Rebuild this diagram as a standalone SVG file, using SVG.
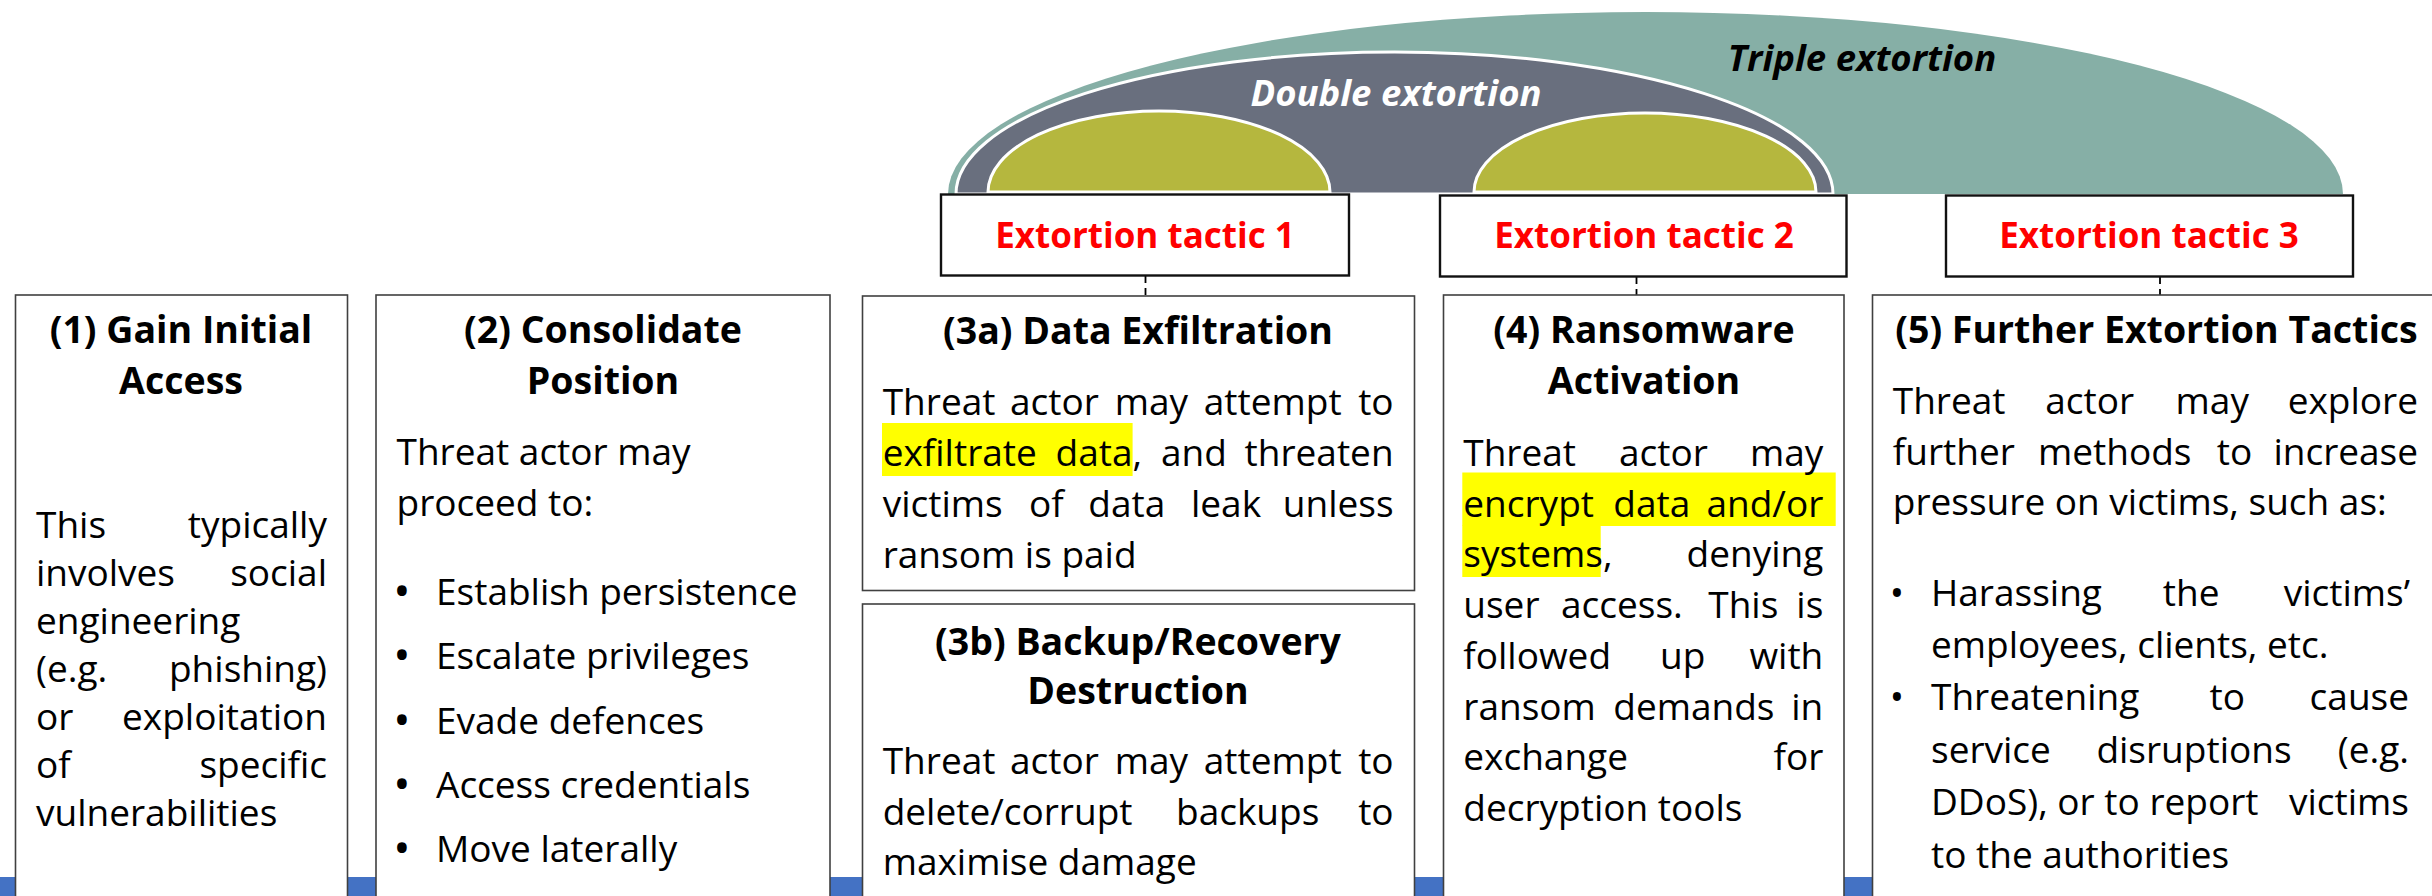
<svg xmlns="http://www.w3.org/2000/svg" width="2432" height="896" viewBox="0 0 2432 896">
<style>
.h{font-family:"Open Sans","Liberation Sans",sans-serif;font-weight:700;font-size:37.5px;fill:#000;text-anchor:middle}
.b{font-family:"Open Sans","Liberation Sans",sans-serif;font-size:37px;fill:#000}
.e{text-anchor:end}
.m{text-anchor:middle}
.bl{font-size:46px}
.bs{font-size:38px}
.t{font-family:"Open Sans","Liberation Sans",sans-serif;font-weight:700;font-size:35px;fill:#FF0000;text-anchor:middle}
.box{fill:#fff;stroke:#404040;stroke-width:1.6}
.tbox{fill:#fff;stroke:#111;stroke-width:2.4}
.hl{fill:#FFFF00}
.con{stroke:#000;stroke-width:1.8;stroke-dasharray:7 5;fill:none}
.arc{font-family:"Open Sans","Liberation Sans",sans-serif;font-weight:700;font-style:italic;font-size:36.5px;text-anchor:middle}
</style>
<rect x="0" y="0" width="2432" height="896" fill="#fff"/>
<rect id="bar" x="0" y="877" width="2432" height="19" fill="#4472C4"/>

<g id="triple">
<path d="M948,194 A697.5,182 0 0 1 2343,194 Z" fill="#86AFA6"/>
<text class="arc" x="1862" y="71" fill="#000">Triple extortion</text>
</g>
<g id="double">
<path d="M956,194 A438.5,142 0 0 1 1833,194 Z" fill="#696F7E" stroke="#fff" stroke-width="3"/>
<text class="arc" x="1396" y="106" fill="#fff">Double extortion</text>
</g>
<g id="single1">
<path d="M988,192 A171,81 0 0 1 1330,192 Z" fill="#B5B73E" stroke="#fff" stroke-width="3"/>
</g>
<g id="single2">
<path d="M1474,192 A171,79 0 0 1 1816,192 Z" fill="#B5B73E" stroke="#fff" stroke-width="3"/>
</g>

<g id="connectors">
<line class="con" x1="1145.5" y1="276" x2="1145.5" y2="296"/>
<line class="con" x1="1636.5" y1="277" x2="1636.5" y2="295"/>
<line class="con" x1="2160" y1="277" x2="2160" y2="295"/>
</g>

<g id="tactic1">
<rect class="tbox" x="941" y="194.5" width="408" height="81"/>
<text class="t" x="1145" y="248">Extortion tactic 1</text>
</g>
<g id="tactic2">
<rect class="tbox" x="1440" y="195.5" width="406.5" height="81"/>
<text class="t" x="1644" y="248">Extortion tactic 2</text>
</g>
<g id="tactic3">
<rect class="tbox" x="1946" y="195.5" width="407" height="81"/>
<text class="t" x="2149" y="248">Extortion tactic 3</text>
</g>

<g id="step1">
<rect class="box" x="15.5" y="295" width="332" height="640"/>
<text class="h" x="181" y="343">(1) Gain Initial</text>
<text class="h" x="181" y="394">Access</text>
<text class="b" x="36" y="538">This</text><text class="b e" x="327" y="538">typically</text>
<text class="b" x="36" y="586">involves</text><text class="b e" x="327" y="586">social</text>
<text class="b" x="36" y="634">engineering</text>
<text class="b" x="36" y="682">(e.g.</text><text class="b e" x="327" y="682">phishing)</text>
<text class="b" x="36" y="730">or</text><text class="b e" x="327" y="730">exploitation</text>
<text class="b" x="36" y="778">of</text><text class="b e" x="327" y="778">specific</text>
<text class="b" x="36" y="826">vulnerabilities</text>
</g>

<g id="step2">
<rect class="box" x="376" y="295" width="454" height="640"/>
<text class="h" x="603" y="343">(2) Consolidate</text>
<text class="h" x="603" y="394">Position</text>
<text class="b" x="396.5" y="465">Threat actor may</text>
<text class="b" x="396.5" y="516">proceed to:</text>
<text class="b m bl" x="402" y="607">•</text><text class="b" x="436" y="605">Establish persistence</text>
<text class="b m bl" x="402" y="671">•</text><text class="b" x="436" y="669">Escalate privileges</text>
<text class="b m bl" x="402" y="736">•</text><text class="b" x="436" y="734">Evade defences</text>
<text class="b m bl" x="402" y="800">•</text><text class="b" x="436" y="798">Access credentials</text>
<text class="b m bl" x="402" y="864">•</text><text class="b" x="436" y="862">Move laterally</text>
</g>

<g id="step3a">
<rect class="box" x="862.5" y="296" width="552" height="294.5"/>
<text class="h" x="1138" y="344">(3a) Data Exfiltration</text>
<rect class="hl" x="882" y="423" width="250.6" height="53"/>
<text class="b" x="882.7" y="415">Threat</text><text class="b" x="1010" y="415">actor</text><text class="b" x="1114.8" y="415">may</text><text class="b" x="1203.8" y="415">attempt</text><text class="b e" x="1393.6" y="415">to</text>
<text class="b" x="882.7" y="466">exfiltrate</text><text class="b" x="1055.5" y="466">data,</text><text class="b" x="1161" y="466">and</text><text class="b e" x="1393.6" y="466">threaten</text>
<text class="b" x="882.7" y="516.5">victims</text><text class="b" x="1029" y="516.5">of</text><text class="b" x="1088.3" y="516.5">data</text><text class="b" x="1191" y="516.5">leak</text><text class="b e" x="1393.6" y="516.5">unless</text>
<text class="b" x="882.7" y="567.5">ransom is paid</text>
</g>

<g id="step3b">
<rect class="box" x="862.5" y="604" width="552" height="330"/>
<text class="h" x="1138" y="654.5">(3b) Backup/Recovery</text>
<text class="h" x="1138" y="703.5">Destruction</text>
<text class="b" x="882.7" y="774">Threat</text><text class="b" x="1010" y="774">actor</text><text class="b" x="1114.8" y="774">may</text><text class="b" x="1203.8" y="774">attempt</text><text class="b e" x="1393.6" y="774">to</text>
<text class="b" x="882.7" y="825">delete/corrupt</text><text class="b" x="1176" y="825">backups</text><text class="b e" x="1393.6" y="825">to</text>
<text class="b" x="882.7" y="875">maximise damage</text>
</g>

<g id="step4">
<rect class="box" x="1443.5" y="295" width="400.5" height="640"/>
<text class="h" x="1644" y="343">(4) Ransomware</text>
<text class="h" x="1644" y="394">Activation</text>
<rect class="hl" x="1462.3" y="472.5" width="373.4" height="53.5"/>
<rect class="hl" x="1462.3" y="525.5" width="138.4" height="51.5"/>
<text class="b" x="1463.3" y="465.5">Threat</text><text class="b" x="1619" y="465.5">actor</text><text class="b e" x="1823.3" y="465.5">may</text>
<text class="b" x="1463.3" y="516.5">encrypt</text><text class="b" x="1613.3" y="516.5">data</text><text class="b e" x="1823.3" y="516.5">and/or</text>
<text class="b" x="1463.3" y="567">systems,</text><text class="b e" x="1823.3" y="567">denying</text>
<text class="b" x="1463.3" y="618">user</text><text class="b" x="1561" y="618">access.</text><text class="b" x="1708.3" y="618">This</text><text class="b e" x="1823.3" y="618">is</text>
<text class="b" x="1463.3" y="669">followed</text><text class="b" x="1660" y="669">up</text><text class="b e" x="1823.3" y="669">with</text>
<text class="b" x="1463.3" y="719.5">ransom</text><text class="b" x="1613.3" y="719.5">demands</text><text class="b e" x="1823.3" y="719.5">in</text>
<text class="b" x="1463.3" y="770">exchange</text><text class="b e" x="1823.3" y="770">for</text>
<text class="b" x="1463.3" y="820.5">decryption tools</text>
</g>

<g id="step5">
<rect class="box" x="1872.5" y="295" width="600" height="640"/>
<text class="h" x="2156.5" y="343">(5) Further Extortion Tactics</text>
<text class="b" x="1892.8" y="413.5">Threat</text><text class="b" x="2045.3" y="413.5">actor</text><text class="b" x="2175.6" y="413.5">may</text><text class="b e" x="2418" y="413.5">explore</text>
<text class="b" x="1892.8" y="464.5">further</text><text class="b" x="2038" y="464.5">methods</text><text class="b" x="2216.8" y="464.5">to</text><text class="b e" x="2418" y="464.5">increase</text>
<text class="b" x="1892.8" y="515">pressure on victims, such as:</text>
<text class="b m bs" x="1897" y="607">•</text>
<text class="b" x="1931" y="606">Harassing</text><text class="b" x="2162.8" y="606">the</text><text class="b e" x="2410" y="606">victims’</text>
<text class="b" x="1931" y="658">employees, clients, etc.</text>
<text class="b m bs" x="1897" y="711">•</text>
<text class="b" x="1931" y="710">Threatening</text><text class="b" x="2209.5" y="710">to</text><text class="b e" x="2409" y="710">cause</text>
<text class="b" x="1931" y="762.5">service</text><text class="b" x="2096.4" y="762.5">disruptions</text><text class="b e" x="2409" y="762.5">(e.g.</text>
<text class="b" x="1931" y="815">DDoS), or to report</text><text class="b e" x="2409" y="815">victims</text>
<text class="b" x="1931" y="867.5">to the authorities</text>
</g>
</svg>
